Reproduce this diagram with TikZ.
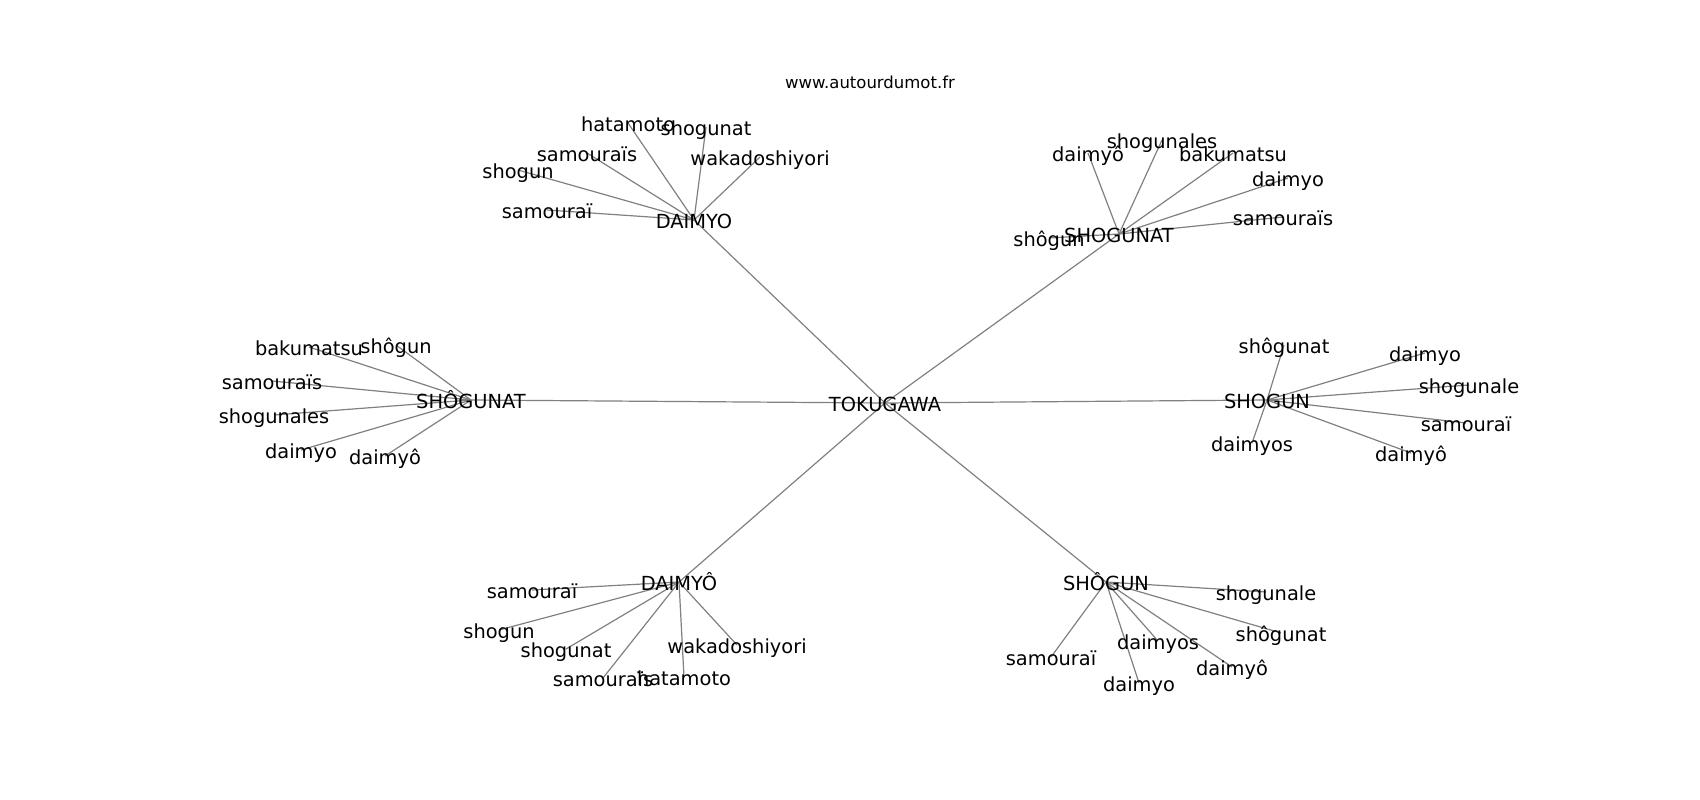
\documentclass[tikz,border=0pt]{standalone}
\usepackage{fontspec}
\setmainfont{DejaVu Sans}
\usetikzlibrary{backgrounds}

\begin{document}
\begin{tikzpicture}[x=1pt,y=-1pt,
  word/.style={inner sep=0pt,text height=17pt,text depth=0pt,font=\fontsize{19.4pt}{23pt}\selectfont},
  link/.style={draw=gray,line width=1.2pt}]
\useasboundingbox (0,0) rectangle (1700,800);
\node[inner sep=0pt,text height=13pt,text depth=0pt,font=\fontsize{16.5pt}{20pt}\selectfont] (title) at (870,82) {www.autourdumot.fr};
% hubs
\node[word] (tok) at (885,403) {TOKUGAWA};
\node[word] (dA) at (694,220) {DAIMYO};
\node[word] (sA) at (1119,234) {SHOGUNAT};
\node[word] (sB) at (471,400) {SHÔGUNAT};
\node[word] (sC) at (1267,400) {SHOGUN};
\node[word] (dB) at (679,582) {DAIMYÔ};
\node[word] (sD) at (1106,582) {SHÔGUN};
% DAIMYO
\node[word] (dA-1) at (628,123) {hatamoto};
\node[word] (dA-2) at (706,127) {shogunat};
\node[word] (dA-3) at (587,153) {samouraïs};
\node[word] (dA-4) at (518,170) {shogun};
\node[word] (dA-5) at (760,157) {wakadoshiyori};
\node[word] (dA-6) at (547,210) {samouraï};
% SHOGUNAT
\node[word] (sA-1) at (1088,153) {daimyô};
\node[word] (sA-2) at (1162,140) {shogunales};
\node[word] (sA-3) at (1233,153) {bakumatsu};
\node[word] (sA-4) at (1288,178) {daimyo};
\node[word] (sA-5) at (1283,217) {samouraïs};
\node[word] (sA-6) at (1049,238) {shôgun};
% SHÔGUNAT
\node[word] (sB-1) at (309,347) {bakumatsu};
\node[word] (sB-2) at (396,345) {shôgun};
\node[word] (sB-3) at (272,381) {samouraïs};
\node[word] (sB-4) at (274,415) {shogunales};
\node[word] (sB-5) at (301,450) {daimyo};
\node[word] (sB-6) at (385,456) {daimyô};
% SHOGUN
\node[word] (sC-1) at (1284,345) {shôgunat};
\node[word] (sC-2) at (1425,353) {daimyo};
\node[word] (sC-3) at (1469,385) {shogunale};
\node[word] (sC-4) at (1466,423) {samouraï};
\node[word] (sC-5) at (1411,453) {daimyô};
\node[word] (sC-6) at (1252,443) {daimyos};
% DAIMYÔ
\node[word] (dB-1) at (532,590) {samouraï};
\node[word] (dB-2) at (499,630) {shogun};
\node[word] (dB-3) at (566,649) {shogunat};
\node[word] (dB-4) at (603,678) {samouraïs};
\node[word] (dB-5) at (684,677) {hatamoto};
\node[word] (dB-6) at (737,645) {wakadoshiyori};
% SHÔGUN
\node[word] (sD-1) at (1266,592) {shogunale};
\node[word] (sD-2) at (1281,633) {shôgunat};
\node[word] (sD-3) at (1158,641) {daimyos};
\node[word] (sD-4) at (1232,667) {daimyô};
\node[word] (sD-5) at (1139,683) {daimyo};
\node[word] (sD-6) at (1051,657) {samouraï};
\begin{scope}[on background layer]
\draw[link] (tok.center) -- (dA.center);
\draw[link] (tok.center) -- (sA.center);
\draw[link] (tok.center) -- (sB.center);
\draw[link] (tok.center) -- (sC.center);
\draw[link] (tok.center) -- (dB.center);
\draw[link] (tok.center) -- (sD.center);
\draw[link] (dA.center) -- (dA-1.center);
\draw[link] (dA.center) -- (dA-2.center);
\draw[link] (dA.center) -- (dA-3.center);
\draw[link] (dA.center) -- (dA-4.center);
\draw[link] (dA.center) -- (dA-5.center);
\draw[link] (dA.center) -- (dA-6.center);
\draw[link] (sA.center) -- (sA-1.center);
\draw[link] (sA.center) -- (sA-2.center);
\draw[link] (sA.center) -- (sA-3.center);
\draw[link] (sA.center) -- (sA-4.center);
\draw[link] (sA.center) -- (sA-5.center);
\draw[link] (sA.center) -- (sA-6.center);
\draw[link] (sB.center) -- (sB-1.center);
\draw[link] (sB.center) -- (sB-2.center);
\draw[link] (sB.center) -- (sB-3.center);
\draw[link] (sB.center) -- (sB-4.center);
\draw[link] (sB.center) -- (sB-5.center);
\draw[link] (sB.center) -- (sB-6.center);
\draw[link] (sC.center) -- (sC-1.center);
\draw[link] (sC.center) -- (sC-2.center);
\draw[link] (sC.center) -- (sC-3.center);
\draw[link] (sC.center) -- (sC-4.center);
\draw[link] (sC.center) -- (sC-5.center);
\draw[link] (sC.center) -- (sC-6.center);
\draw[link] (dB.center) -- (dB-1.center);
\draw[link] (dB.center) -- (dB-2.center);
\draw[link] (dB.center) -- (dB-3.center);
\draw[link] (dB.center) -- (dB-4.center);
\draw[link] (dB.center) -- (dB-5.center);
\draw[link] (dB.center) -- (dB-6.center);
\draw[link] (sD.center) -- (sD-1.center);
\draw[link] (sD.center) -- (sD-2.center);
\draw[link] (sD.center) -- (sD-3.center);
\draw[link] (sD.center) -- (sD-4.center);
\draw[link] (sD.center) -- (sD-5.center);
\draw[link] (sD.center) -- (sD-6.center);
\end{scope}
\end{tikzpicture}
\end{document}
